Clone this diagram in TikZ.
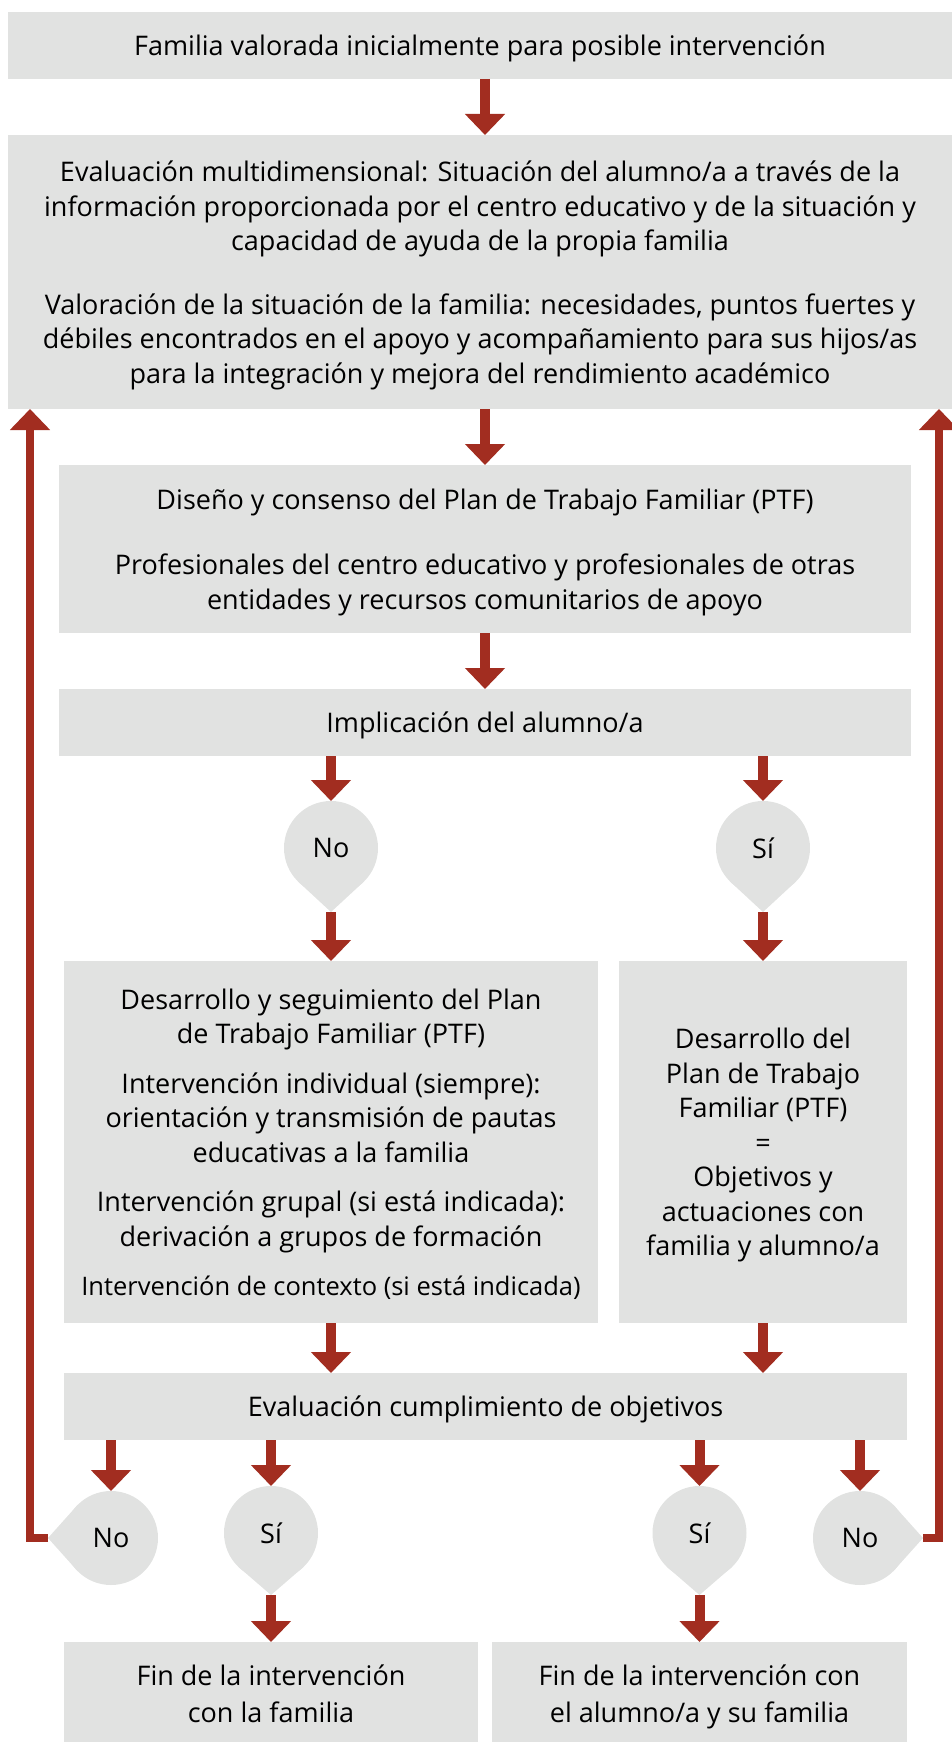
\documentclass[tikz,border=0pt]{standalone}
\usepackage{fontspec}
\setmainfont{Open Sans}
\usetikzlibrary{arrows.meta,calc}
\definecolor{boxgray}{HTML}{E1E2E1}
\definecolor{arrred}{HTML}{A22D20}
\tikzset{
  box/.style={fill=boxgray, inner sep=0pt, outer sep=0pt, align=center, anchor=north west,
    font=\fontsize{27}{34.5}\selectfont, text=black, text depth=-1pt},
  drop/.style={circle, fill=boxgray, inner sep=0pt, outer sep=0pt, minimum size=94pt,
    font=\fontsize{27}{34.5}\selectfont, text=black, text depth=-8pt},
  arr/.style={draw=arrred, line width=10pt, -{Triangle[width=39pt,length=21pt]}},
  fbarr/.style={draw=arrred, line width=8pt, -{Triangle[width=39pt,length=21pt]}},
}
\begin{document}
\begin{tikzpicture}[x=1pt,y=-1pt]
\useasboundingbox (0,0) rectangle (952,1742);
% boxes
\node[box, minimum width=944pt, minimum height=67pt] (b1) at (8,12)
  {Familia valorada inicialmente para posible intervención};
\node[box, minimum width=944pt, minimum height=274pt] (b2) at (8,135)
  {Evaluación multidimensional: Situación del alumno/a a través de la\\
   información proporcionada por el centro educativo y de la situación y\\
   capacidad de ayuda de la propia familia\\[29pt]
   Valoración de la situación de la familia: necesidades, puntos fuertes y\\
   débiles encontrados en el apoyo y acompañamiento para sus hijos/as\\
   para la integración y mejora del rendimiento académico};
\node[box, minimum width=852pt, minimum height=168pt] (b3) at (59,465)
  {Diseño y consenso del Plan de Trabajo Familiar (PTF)\\[31pt]
   Profesionales del centro educativo y profesionales de otras\\
   entidades y recursos comunitarios de apoyo};
\node[box, minimum width=852pt, minimum height=67pt] (b4) at (59,689)
  {Implicación del alumno/a};
\node[box, minimum width=534pt, minimum height=362pt] (b5) at (64,961)
  {Desarrollo y seguimiento del Plan\\
   de Trabajo Familiar (PTF)\\[15pt]
   Intervención individual (siempre):\\
   orientación y transmisión de pautas\\
   educativas a la familia\\[15pt]
   Intervención grupal (si está indicada):\\
   derivación a grupos de formación\\[15pt]
   {\fontsize{25.5}{34.5}\selectfont Intervención de contexto (si está indicada)}};
\node[box, minimum width=288pt, minimum height=362pt] (b6) at (619,961)
  {Desarrollo del\\ Plan de Trabajo\\ Familiar (PTF)\\ =\\ Objetivos y\\ actuaciones con\\ familia y alumno/a};
\node[box, minimum width=843pt, minimum height=67pt] (b7) at (64,1373)
  {Evaluación cumplimiento de objetivos};
\node[box, minimum width=414pt, minimum height=104pt, font=\fontsize{27}{37}\selectfont] (b8) at (64,1642)
  {Fin de la intervención\\ con la familia};
\node[box, minimum width=415pt, minimum height=104pt, font=\fontsize{27}{37}\selectfont] (b9) at (492,1642)
  {Fin de la intervención con\\ el alumno/a y su familia};
% decision drops
\node[drop] (nA) at (331,848) {No};
\node[drop] (nB) at (763,848) {Sí};
\node[drop] (nC) at (111,1538) {No};
\node[drop] (nD) at (271,1533) {Sí};
\node[drop] (nE) at (699.5,1533) {Sí};
\node[drop] (nF) at (860,1538) {No};
\coordinate (nAt) at ($(nA.center)+(0,64)$);
\coordinate (nBt) at ($(nB.center)+(0,64)$);
\coordinate (nCt) at ($(nC.center)+(-63,0)$);
\coordinate (nDt) at ($(nD.center)+(0,62)$);
\coordinate (nEt) at ($(nE.center)+(0,62)$);
\coordinate (nFt) at ($(nF.center)+(63,0)$);
\fill[boxgray] (nA.-45) -- (nAt) -- (nA.-135) -- cycle;
\fill[boxgray] (nB.-45) -- (nBt) -- (nB.-135) -- cycle;
\fill[boxgray] (nD.-45) -- (nDt) -- (nD.-135) -- cycle;
\fill[boxgray] (nE.-45) -- (nEt) -- (nE.-135) -- cycle;
\fill[boxgray] (nC.135) -- (nCt) -- (nC.-135) -- cycle;
\fill[boxgray] (nF.45) -- (nFt) -- (nF.-45) -- cycle;
% connectors
\draw[arr] (b1.south -| b3.north) -- (b2.north -| b3.north);
\draw[arr] (b2.south -| b3.north) -- (b3.north);
\draw[arr] (b3.south) -- (b4.north);
\draw[arr] (b4.south -| nA.north) -- (nA.north);
\draw[arr] (b4.south -| nB.north) -- (nB.north);
\draw[arr] (nAt) -- (b5.north);
\draw[arr] (nBt) -- (b6.north);
\draw[arr] (b5.south) -- (b7.north -| b5.south);
\draw[arr] (b6.south) -- (b7.north -| b6.south);
\draw[arr] (b7.south -| nC.north) -- (nC.north);
\draw[arr] (b7.south -| nD.north) -- (nD.north);
\draw[arr] (b7.south -| nE.north) -- (nE.north);
\draw[arr] (b7.south -| nF.north) -- (nF.north);
\draw[arr] (nDt) -- (b8.north -| nDt);
\draw[arr] (nEt) -- (b9.north -| nEt);
\coordinate (fl) at (30,1538);
\coordinate (fr) at (939,1538);
\draw[fbarr, line join=miter] (nCt) -- (fl) -- (b2.south -| fl);
\draw[fbarr, line join=miter] (nFt) -- (fr) -- (b2.south -| fr);
\end{tikzpicture}
\end{document}
